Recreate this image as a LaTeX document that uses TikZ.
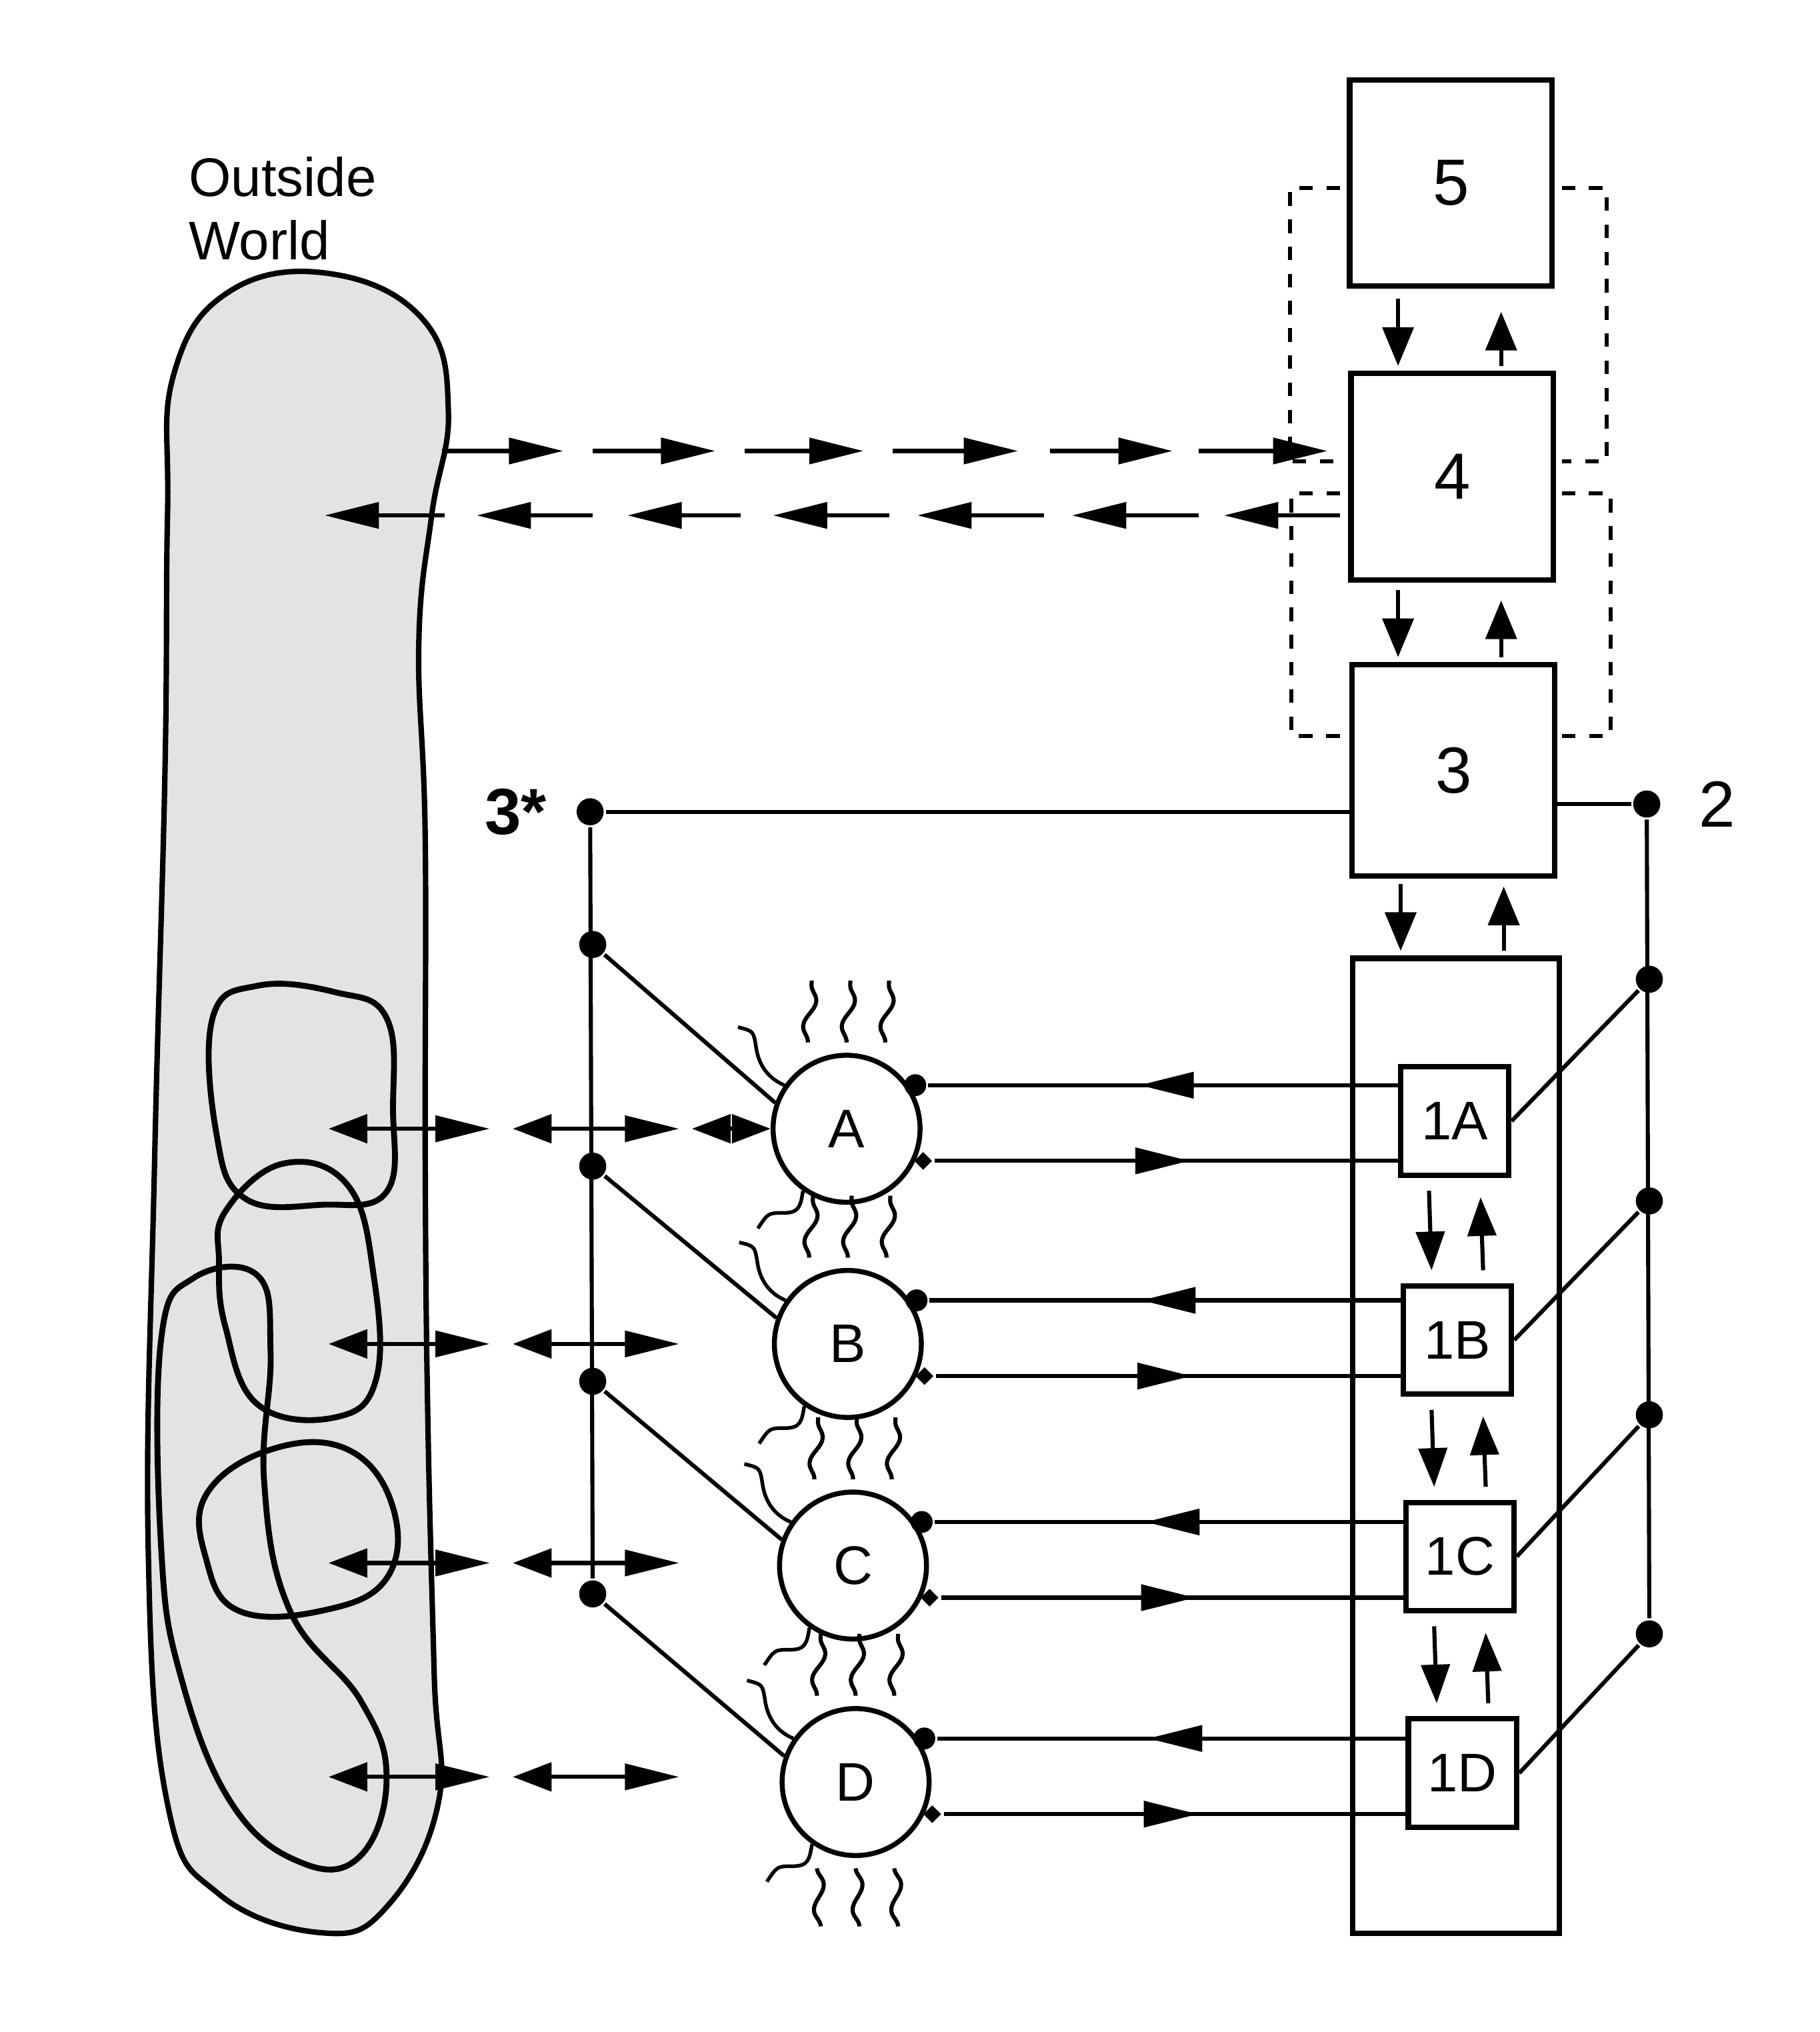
\documentclass[tikz,border=0pt]{standalone}
\usepackage{fontspec}
\setmainfont{Liberation Sans}
\usetikzlibrary{arrows.meta,decorations.markings,decorations.pathmorphing,shapes.geometric}

\tikzset{
  box/.style={draw=black, line width=1.2pt, minimum width=1.57cm, minimum height=1.6cm, font=\Large},
  sbox/.style={draw=black, line width=1.2pt, minimum width=0.84cm, minimum height=0.84cm, font=\large},
  cell/.style={circle, draw=black, line width=1.1pt, minimum size=1.14cm, font=\large},
  dot/.style={circle, fill=black, inner sep=0pt, minimum size=0.21cm},
  bigtip/.tip={Triangle[length=0.42cm,width=0.2cm]},
  smalltip/.tip={Triangle[length=0.3cm,width=0.22cm]},
  midleft/.style={postaction={decorate}, decoration={markings, mark=at position 0.55 with {\arrow{bigtip}}}},
  wire/.style={line width=0.9pt},
  hair/.style={line width=0.9pt, decorate, decoration={snake, amplitude=0.045cm, segment length=0.4cm}},
}

\begin{document}
\begin{tikzpicture}[x=0.01cm, y=-0.01cm, line width=0.9pt]
    \useasboundingbox (0,0) rectangle (1412,1577);

    % outside world
    \draw[line width=1.2pt, fill=gray!22] plot[smooth cycle, tension=0.7] coordinates
      {(135,290) (180,225) (260,213) (330,250) (348,320) (335,400) (325,500) (330,650)
       (330,900) (332,1100) (337,1300) (340,1400) (300,1480) (250,1500) (170,1470)
       (130,1400) (115,1200) (120,900) (128,600) (130,400)};
    \draw[line width=1.3pt] plot[smooth cycle, tension=0.7] coordinates
      {(165,790) (200,765) (260,770) (300,790) (305,860) (300,925) (250,935) (190,930) (168,880)};
    \draw[line width=1.3pt] plot[smooth cycle, tension=0.7] coordinates
      {(175,940) (220,903) (270,920) (290,990) (292,1070) (260,1100) (200,1090) (175,1030) (170,980)};
    \draw[line width=1.3pt] plot[smooth cycle, tension=0.7] coordinates
      {(125,1040) (150,992) (200,990) (210,1050) (205,1150) (225,1250) (280,1320) (300,1380)
       (280,1440) (235,1446) (180,1400) (140,1300) (125,1200)};
    \draw[line width=1.3pt] plot[smooth cycle, tension=0.7] coordinates
      {(160,1160) (210,1125) (270,1125) (305,1170) (300,1225) (250,1250) (185,1250) (160,1210)};
    \node[anchor=west, align=left, font=\large, inner sep=0pt] (ow) at (145,162) {Outside\\World};

    % upper boxes
    \node[box] (b5) at (1126,142) {5};
    \node[box] (b4) at (1127,370) {4};
    \node[box, minimum height=1.64cm] (b3) at (1128,598) {3};
    \node[draw=black, line width=1.2pt, minimum width=1.6cm, minimum height=7.56cm] (bank) at (1130,1122) {};

    \draw[-{Triangle[length=0.3cm,width=0.24cm]}] (1085,232) -- (1085,284);
    \draw[-{Triangle[length=0.3cm,width=0.24cm]}] (1165,284) -- (1165,242);
    \draw[-{Triangle[length=0.3cm,width=0.24cm]}] (1085,458) -- (1085,510);
    \draw[-{Triangle[length=0.3cm,width=0.24cm]}] (1165,510) -- (1165,466);
    \draw[-{Triangle[length=0.3cm,width=0.24cm]}] (1087,686) -- (1087,738);
    \draw[-{Triangle[length=0.3cm,width=0.24cm]}] (1167,738) -- (1167,688);

    % dashed loops
    \draw[dashed] (1040,146) -| (1001,358) -- (1040,358);
    \draw[dashed] (1212,146) -| (1247,358) -- (1212,358);
    \draw[dashed] (1040,383) -| (1002,571) -- (1040,571);
    \draw[dashed] (1212,383) -| (1250,571) -- (1212,571);

    % link to outside world
    \foreach \a/\b in {343/437, 460/555, 578/670, 693/790, 815/910, 930/1030}
      \draw[-bigtip] (\a,350) -- (\b,350);
    \foreach \a/\b in {1040/950, 930/832, 810/712, 690/600, 575/487, 460/370, 345/252}
      \draw[-bigtip] (\a,400) -- (\b,400);

    % buses
    \node[dot] (s3) at (458,630) {};
    \node[dot] (s2) at (1278,624) {};
    \node[font=\Large\rmfamily\bfseries, anchor=east] (l3) at (s3.west) {3*\,};
    \node[font=\Large, anchor=west] (l2) at ([xshift=0.15cm]s2.east) {2};
    \draw[wire] (s3) -- (s3 -| b3.west);
    \draw[wire] (b3.east |- s2) -- (s2);

    \foreach \n/\y/\l in {A/876/733, B/1043/905, C/1215/1072, D/1383/1237}
      \node[dot] (l\n) at (460,\l) {};
    \foreach \n/\r in {A/760, B/932, C/1098, D/1268}
      \node[dot] (r\n) at (1280,\r) {};
    \draw[wire] (s3) -- (lD);
    \draw[wire] (s2) -- (rD);

    % cells and units
    \foreach \n/\cx/\cy/\bx/\by in {A/657/876/1129/870, B/658/1043/1131/1040, C/662/1215/1133/1208, D/664/1383/1135/1376} {
      \node[cell] (c\n) at (\cx,\cy) {\n};
      \node[sbox, fill=white] (u\n) at (\bx,\by) {1\n};
      \draw[wire] (l\n) -- (c\n.160);
      \draw[wire] (r\n) -- (u\n.east);
      \node[circle, fill=black, inner sep=0pt, minimum size=0.17cm] (t\n) at ([xshift=0.05cm]c\n.35) {};
      \node[diamond, fill=black, inner sep=0pt, minimum size=0.15cm] (d\n) at ([xshift=0.06cm]c\n.-25) {};
      \draw[wire, midleft] (u\n.west |- t\n) -- (t\n);
      \draw[wire, midleft] (d\n) -- (u\n.west |- d\n);
      \draw[fill=white, draw=none] ([xshift=0.06cm]c\n.5) circle (0.06cm);
      \foreach \dx in {-0.3,0,0.3}
        \draw[hair] ([xshift=\dx cm,yshift=0.08cm]c\n.north) -- ++(0.03cm,0.48cm);
      \draw[line width=0.8pt] (c\n.145) .. controls ++(-0.12cm,0.05cm) and ++(0.02cm,-0.15cm) .. ++(-0.22cm,0.3cm) .. controls ++(-0.02cm,0.12cm) .. ++(-0.14cm,0.15cm);
      \draw[line width=0.8pt] (c\n.235) .. controls ++(-0.02cm,-0.12cm) and ++(0.12cm,0cm) .. ++(-0.15cm,-0.17cm) .. controls ++(-0.12cm,0cm) .. ++(-0.2cm,-0.12cm);
    }
    \foreach \dx in {-0.3,0,0.3}
      \draw[hair] ([xshift=\dx cm,yshift=-0.08cm]cD.south) -- ++(0.03cm,-0.45cm);

    \foreach \a/\b in {uA/uB, uB/uC, uC/uD} {
      \draw[-smalltip] ([xshift=-0.2cm,yshift=-0.1cm]\a.south) -- ([xshift=-0.2cm,yshift=0.1cm]\b.north);
      \draw[-smalltip] ([xshift=0.2cm,yshift=0.1cm]\b.north) -- ([xshift=0.2cm,yshift=-0.15cm]\a.south);
    }

    % exchange with outside world
    \foreach \y in {876,1043,1213,1379} {
      \draw[{smalltip}-{bigtip}] (255,\y) -- (380,\y);
      \draw[{smalltip}-{bigtip}] (398,\y) -- (527,\y);
    }
    \draw[{smalltip}-{smalltip}] (537,876) -- (cA.west);
\end{tikzpicture}
\end{document}
